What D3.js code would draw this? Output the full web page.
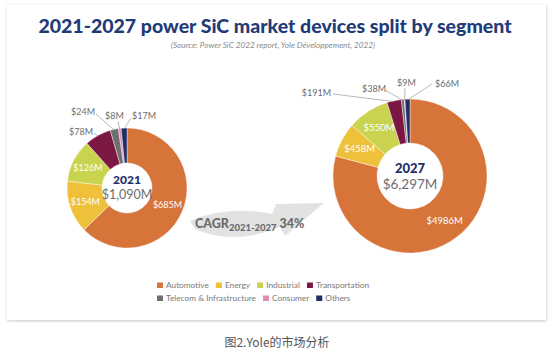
<!DOCTYPE html>
<html>
<head>
<meta charset="utf-8">
<script src="https://cdn.jsdelivr.net/npm/d3@7"></script>
<style>
  body { margin: 0; background: #fff; }
  svg text { font-family: Lato, "Open Sans", sans-serif; }
</style>
</head>
<body>
<script>
// segments and values
const segments = ["Automotive", "Energy", "Industrial", "Transportation",
                  "Telecom & Infrastructure", "Consumer", "Others"]
const colors   = ["#d6743a", "#efc13a", "#c9d34f", "#7b1743", "#6f6f6f", "#e38cb4", "#1f2e68"]
const values2021 = [685, 154, 126, 78, 24, 8, 17]
const values2027 = [4986, 458, 550, 191, 38, 9, 66]
const labels2021 = ["$685M", "$154M", "$126M", "$78M", "$24M", "$8M", "$17M"]
const labels2027 = ["$4986M", "$458M", "$550M", "$191M", "$38M", "$9M", "$66M"]
const years  = ["2021", "2027"]
const totals = ["$1,090M", "$6,297M"]

const width = 551, height = 351

const svg = d3.select("body").append("svg")
    .attr("width", width)
    .attr("height", height)

// card with soft shadow
const defs = svg.append("defs")
const shadow = defs.append("filter").attr("id", "shadow")
    .attr("x", "-5%").attr("y", "-5%").attr("width", "110%").attr("height", "110%")
shadow.append("feDropShadow")
    .attr("dx", 0.5).attr("dy", 1).attr("stdDeviation", 1.6)
    .attr("flood-color", "#000").attr("flood-opacity", 0.22)

svg.append("rect")
    .attr("x", 7).attr("y", 5)
    .attr("width", 539).attr("height", 315)
    .style("fill", "#fff")
    .attr("filter", "url(#shadow)")

// title
svg.append("text")
    .attr("x", 275).attr("y", 33)
    .attr("text-anchor", "middle")
    .style("font-size", "19.5px").style("font-weight", 900)
    .style("fill", "#1f3b78")
    .text("2021-2027 power SiC market devices split by segment")

svg.append("text")
    .attr("x", 273).attr("y", 48)
    .attr("text-anchor", "middle")
    .style("font-size", "8.2px").style("font-style", "italic")
    .style("fill", "#8a8a8a")
    .text("(Source: Power SiC 2022 report, Yole Développement, 2022)")

// CAGR arrow
svg.append("path")
    .attr("d", "M190,221 Q228,205 272,214 L276,204 L324,203 L285,236 L280,227 Q235,246 195,229 Z")
    .style("fill", "#e2e2e2")

const cagr = svg.append("text")
    .attr("x", 195).attr("y", 228)
    .style("fill", "#6b6b6b").style("font-weight", 900)
cagr.append("tspan").style("font-size", "12.5px").text("CAGR")
cagr.append("tspan").style("font-size", "9.5px").attr("dy", 3).text("2021-2027")
cagr.append("tspan").style("font-size", "12.5px").attr("dy", -3).attr("dx", 3).text("34%")

function drawDonut(params) {
    let cx = params.cx, cy = params.cy
    let outer = params.outer, inner = params.inner
    let values = params.values, labels = params.labels
    let outside = params.outside || {}

    let g = svg.append("g").attr("transform", `translate(${cx},${cy})`)

    let pie = d3.pie().sort(null).value(d => d)
    let arcs = pie(values)

    let arc = d3.arc().innerRadius(inner).outerRadius(outer)
    let labelArc = d3.arc().innerRadius(params.labelR).outerRadius(params.labelR)

    g.selectAll("path.slice")
        .data(arcs)
        .join("path")
        .attr("class", "slice")
        .attr("d", arc)
        .style("fill", (d, i) => colors[i])
        .style("stroke", "#fff")
        .style("stroke-width", 0.4)

    arcs.forEach((d, i) => {
        if (outside[i]) {
            // leader line from the slice edge out to its label
            let o = outside[i]
            let a = (d.startAngle + d.endAngle) / 2
            let ex = Math.sin(a) * (outer - 1), ey = -Math.cos(a) * (outer - 1)
            g.append("line")
                .attr("x1", ex).attr("y1", ey)
                .attr("x2", o.lx).attr("y2", o.ly)
                .style("stroke", "#9a9a9a").style("stroke-width", 0.7)
            g.append("text")
                .attr("x", o.tx).attr("y", o.ty)
                .attr("text-anchor", o.anchor)
                .style("font-size", "9px").style("fill", "#6d6d6d")
                .text(labels[i])
        } else {
            let c = labelArc.centroid(d)
            g.append("text")
                .attr("x", c[0]).attr("y", c[1] + 3)
                .attr("text-anchor", "middle")
                .style("font-size", params.labelSize).style("fill", "#fff")
                .text(labels[i])
        }
    })

    g.append("text")
        .attr("y", params.yearY)
        .attr("text-anchor", "middle")
        .style("font-size", params.yearSize).style("font-weight", 900)
        .style("fill", "#1f2e68")
        .text(params.year)
    g.append("text")
        .attr("y", params.totalY)
        .attr("text-anchor", "middle")
        .style("font-size", params.totalSize).style("fill", "#6d6d6d")
        .text(params.total)
}

drawDonut({
    cx: 127, cy: 188, outer: 60, inner: 25, labelR: 44,
    values: values2021, labels: labels2021, labelSize: "9px",
    year: years[0], total: totals[0],
    yearY: -4, yearSize: "12px", totalY: 11, totalSize: "12.5px",
    outside: {
        3: { tx: -34, ty: -53, anchor: "end", lx: -33, ly: -55 },
        4: { tx: -32, ty: -73, anchor: "end", lx: -31, ly: -74 },
        5: { tx: -22, ty: -69, anchor: "start", lx: -9, ly: -67 },
        6: { tx: 5, ty: -69, anchor: "start", lx: 4, ly: -70 }
    }
})

drawDonut({
    cx: 410, cy: 176, outer: 77, inner: 33, labelR: 57,
    values: values2027, labels: labels2027, labelSize: "9.5px",
    year: years[1], total: totals[1],
    yearY: -3, yearSize: "13px", totalY: 13, totalSize: "13.5px",
    outside: {
        3: { tx: -79, ty: -80, anchor: "end", lx: -77, ly: -82 },
        4: { tx: -48, ty: -84, anchor: "start", lx: -25, ly: -86 },
        5: { tx: -13, ty: -90, anchor: "start", lx: -5, ly: -88 },
        6: { tx: 25, ty: -89, anchor: "start", lx: 22, ly: -92 }
    }
})

// legend, two rows
const legendRows = [[0, 1, 2, 3], [4, 5, 6]]
legendRows.forEach((row, r) => {
    let x = 157
    let y = 288 + r * 13
    row.forEach(i => {
        svg.append("rect")
            .attr("x", x).attr("y", y - 5.5)
            .attr("width", 6).attr("height", 5.5)
            .style("fill", colors[i])
        let t = svg.append("text")
            .attr("x", x + 9).attr("y", y)
            .style("font-size", "8.3px").style("fill", "#7a7a7a")
            .text(segments[i])
        x += 9 + t.node().getComputedTextLength() + 7
    })
})

// caption below the card
svg.append("text")
    .attr("x", 277).attr("y", 347)
    .attr("text-anchor", "middle")
    .style("font-family", "'Noto Sans CJK SC', sans-serif")
    .style("font-size", "12px").style("fill", "#555")
    .text("图2.Yole的市场分析")
</script>
</body>
</html>
